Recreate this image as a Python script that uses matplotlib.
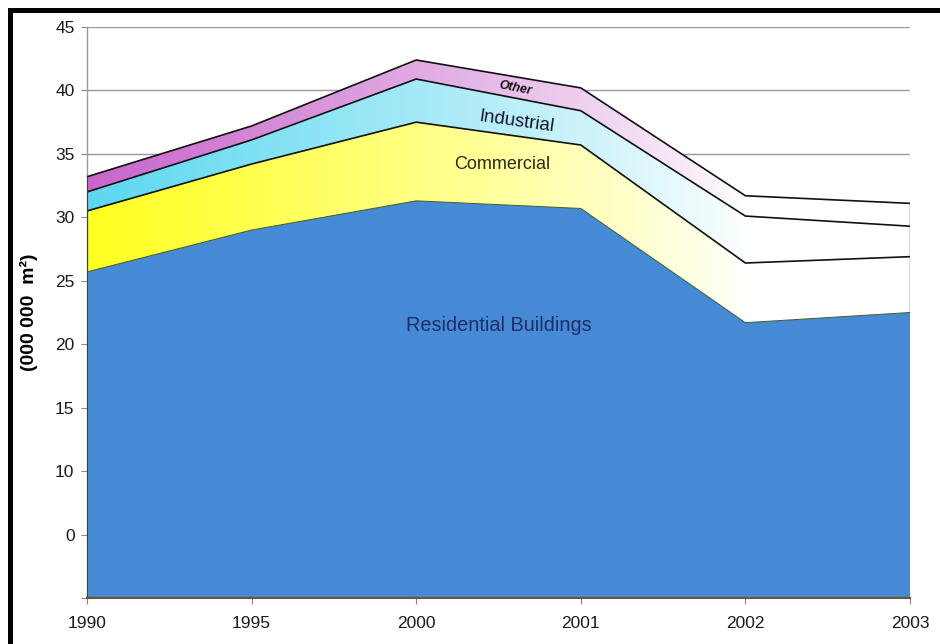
import numpy as np
import matplotlib
matplotlib.use("Agg")
import matplotlib.pyplot as plt
from matplotlib.patches import Polygon, Rectangle
from matplotlib.colors import to_rgb

plt.rcParams['font.family'] = ['Liberation Sans', 'DejaVu Sans']

years = ['1990', '1995', '2000', '2001', '2002', '2003']
residential = [25.7, 29.0, 31.3, 30.7, 21.7, 22.5]
commercial = [4.8, 5.2, 6.2, 5.0, 4.7, 4.4]
industrial = [1.5, 1.9, 3.4, 2.7, 3.7, 2.4]
other = [1.2, 1.1, 1.5, 1.8, 1.6, 1.8]

ytick_vals = [0, 5, 10, 15, 20, 25, 30, 35, 40, 45]
ytick_labels = ['', '0', '10', '15', '20', '25', '30', '35', '40', '45']


def gradient_image(color, n=400):
    # fade from the base colour on the left to white around 2002
    xs = np.linspace(0, 5, n)
    w = np.clip(1 - xs / 4.0, 0, 1) ** 0.85
    c = np.array(to_rgb(color))
    rgb = w[:, None] * c[None, :] + (1 - w[:, None]) * np.ones(3)[None, :]
    return rgb[None, :, :]


def main():
    fig = plt.figure(figsize=(9.4, 6.44), dpi=100)
    ax = fig.add_axes([87 / 940, 46 / 644, 823 / 940, 571 / 644])

    x = np.arange(len(years))
    res = np.array(residential)
    com = res + np.array(commercial)
    ind = com + np.array(industrial)
    oth = ind + np.array(other)

    for yv in ytick_vals[1:]:
        ax.axhline(yv, color='#9a9a9a', lw=1.0, zorder=0)

    # residential, solid blue
    ax.fill_between(x, 0, res, facecolor='#4689d5', edgecolor='none', zorder=2)

    layers = [(res, com, '#ffff20'), (com, ind, '#5cd8f0'), (ind, oth, '#c865cc')]
    for lo, hi, col in layers:
        verts = np.vstack([np.column_stack([x, hi]), np.column_stack([x[::-1], lo[::-1]])])
        poly = Polygon(verts, closed=True, facecolor='none', edgecolor='none',
                       transform=ax.transData)
        ax.add_patch(poly)
        im = ax.imshow(gradient_image(col), extent=[0, 5, 0, 45], aspect='auto',
                       interpolation='bilinear', zorder=2)
        im.set_clip_path(poly)

    ax.plot(x, res, color='#3a5a2a', lw=0.7, zorder=3)
    for top in (com, ind, oth):
        ax.plot(x, top, color='#111111', lw=1.2, zorder=3)
    ax.plot([x[-1], x[-1]], [res[-1], oth[-1]], color='#333333', lw=1.0, zorder=3)
    ax.plot([x[0], x[0]], [0, oth[0]], color='#3a4a30', lw=0.8, zorder=3)

    ax.set_xlim(0, 5)
    ax.set_ylim(0, 45)
    ax.set_xticks(x)
    ax.set_xticklabels(years, fontsize=12.5, color='#1a1a1a')
    ax.set_yticks(ytick_vals)
    ax.set_yticklabels(ytick_labels, fontsize=12.5, color='#1a1a1a')
    ax.tick_params(axis='both', direction='out', length=4, color='#888888')
    ax.tick_params(axis='x', pad=9)
    ax.tick_params(axis='y', pad=5)

    for s in ('top', 'right'):
        ax.spines[s].set_visible(False)
    ax.spines['left'].set_color('#999999')
    ax.spines['left'].set_linewidth(1.0)
    ax.spines['bottom'].set_color('#6e5530')
    ax.spines['bottom'].set_linewidth(1.5)
    ax.spines['bottom'].set_zorder(4)

    ax.set_ylabel('(000 000  m²)', fontsize=14, fontweight='bold', labelpad=12)

    ax.text(2.50, 21.5, 'Residential Buildings', fontsize=14.3, color='#1c2f66',
            ha='center', va='center', zorder=5)
    ax.text(2.52, 34.2, 'Commercial', fontsize=13, color='#2a2a10',
            ha='center', va='center', zorder=5)
    ax.text(2.61, 37.5, 'Industrial', fontsize=13.5, color='#101830',
            ha='center', va='center', rotation=-8, zorder=5)
    ax.text(2.60, 40.2, 'Other', fontsize=9, color='#111111', fontweight='bold',
            style='italic', ha='center', va='center', rotation=-11, zorder=5)

    # black frame along the top and left of the scanned page
    fig.add_artist(Rectangle((8 / 940, 0), 5 / 940, 636 / 644, transform=fig.transFigure,
                             facecolor='black', edgecolor='none'))
    fig.add_artist(Rectangle((8 / 940, 631 / 644), 932 / 940, 5 / 644, transform=fig.transFigure,
                             facecolor='black', edgecolor='none'))

    fig.savefig('out.png', dpi=100)


if __name__ == '__main__':
    main()
